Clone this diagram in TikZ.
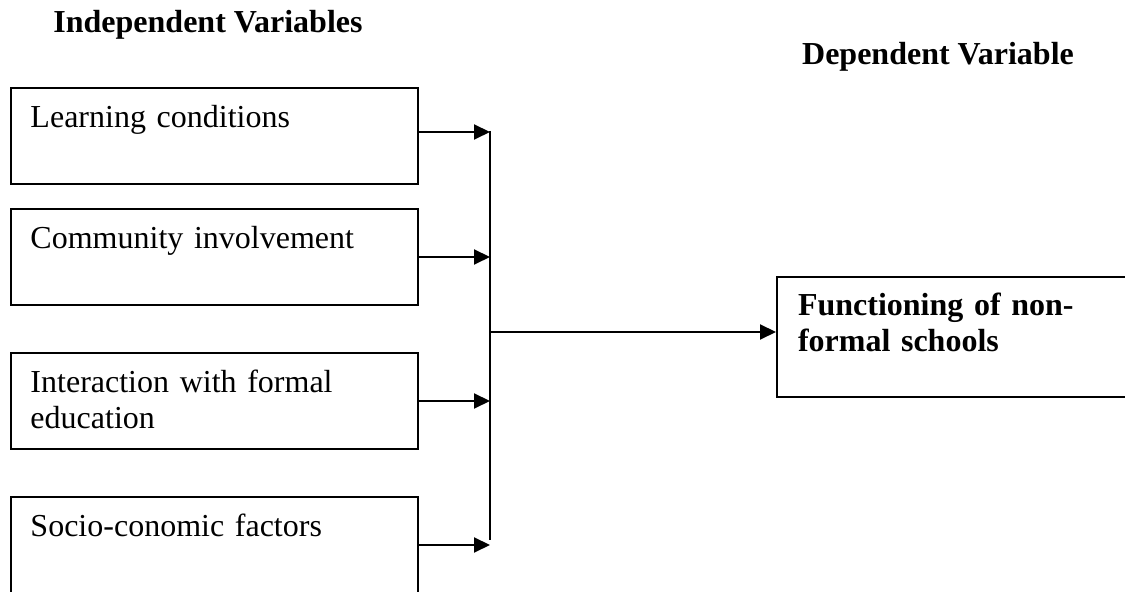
\documentclass[tikz,border=0pt]{standalone}
\usepackage{fontspec}
\setmainfont{Liberation Serif}
\usetikzlibrary{arrows.meta}
\tikzset{
 ivbox/.style={draw,line width=1pt,anchor=north west,inner xsep=10pt,inner ysep=0pt,
   text width=183.75pt,align=left,text height=20pt,text depth=28pt,
   font=\fontsize{16}{18}\selectfont},
 dvbox/.style={ivbox,inner xsep=10.5pt,text width=154pt,text height=19.5pt,text depth=40.5pt,
   font=\fontsize{16}{18}\selectfont\bfseries},
 heading/.style={anchor=base,font=\fontsize{16}{18}\selectfont\bfseries},
 link/.style={line width=1pt,-{Triangle[length=8pt,width=7.5pt]}}
}
\begin{document}
\begin{tikzpicture}[x=0.5pt,y=-0.5pt]
 \useasboundingbox (0,0) rectangle (1125,592);
 % headings
 \node[heading] (iv) at (208,33) {Independent Variables};
 \node[heading] (dv) at (938,65) {Dependent Variable};
 % independent variables
 \node[ivbox] (lc) at (9.5,87) {Learning conditions};
 \node[ivbox] (ci) at (9.5,208) {Community involvement};
 \node[ivbox] (fe) at (9.5,352) {Interaction with formal\\education};
 \node[ivbox] (se) at (9.5,496) {Socio-conomic factors};
 % dependent variable
 \node[dvbox] (fn) at (776,276) {Functioning of non-\\formal schools};
 % joining line
 \coordinate (jtop) at (490,131);
 \coordinate (jbot) at (490,540);
 \coordinate (jmid) at (490,332);
 \draw[link] ([yshift=2pt]lc.east) -- ([yshift=2pt]lc.east -| jtop);
 \draw[link] (ci.east) -- (ci.east -| jtop);
 \draw[link] (fe.east) -- (fe.east -| jtop);
 \draw[link] (se.east) -- (se.east -| jtop);
 \draw[line width=1pt] (jtop) -- (jbot);
 \draw[link] (jmid) -- (jmid -| fn.west);
\end{tikzpicture}
\end{document}
